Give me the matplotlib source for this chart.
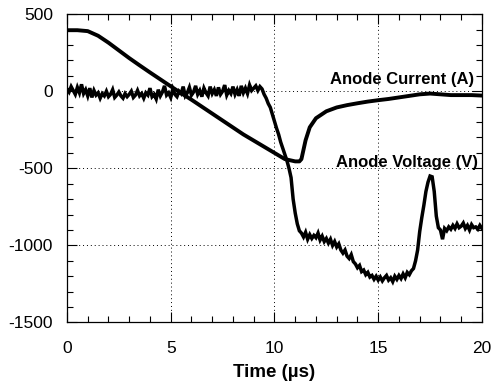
import matplotlib
matplotlib.use("Agg")
import matplotlib.pyplot as plt
import numpy as np
from matplotlib.ticker import MultipleLocator

plt.rcParams['font.family'] = ['Liberation Sans', 'DejaVu Sans']
plt.rcParams['axes.unicode_minus'] = False

# Anode voltage (V), sampled every 0.1 us from 0 to 20 us
volt_t = [round(0.1 * i, 1) for i in range(201)]
volt_v = [
    15, -5, 30, 5, -20, 25, -10, 45, -15, 10,
    -30, 20, -40, 5, -25, -10, -45, -15, -30, 0,
    -35, -20, 10, -40, -25, -5, -30, -45, -15, -35,
    -20, 0, -40, -25, 5, -30, -15, -45, -10, -25,
    20, -35, -20, -50, 10, -30, -5, 35, -25, -10,
    -40, 15, -20, -35, 0, -15, 30, -30, -10, 25,
    -25, -5, 35, -20, 5, -35, 20, -10, -30, 30,
    -15, 10, -30, 25, -20, 0, 40, -25, 5, -15,
    30, -20, 10, -30, 35, -10, 20, -15, 40, 5,
    20, 35, 5, 30, 15, -20, -45, -80, -105, -150,
    -195, -240, -280, -330, -370, -410, -450, -500, -560, -700,
    -790, -860, -905, -920, -945, -915, -960, -930, -955, -935,
    -950, -920, -965, -940, -975, -955, -985, -960, -1000, -975,
    -1010, -990, -1030, -1050, -1030, -1070, -1085, -1060, -1105, -1120,
    -1145, -1130, -1170, -1160, -1190, -1175, -1205, -1195, -1220, -1200,
    -1225, -1205, -1230, -1210, -1195, -1225, -1210, -1235, -1200, -1220,
    -1195, -1215, -1185, -1210, -1175, -1190, -1165, -1150, -1100, -1030,
    -910, -820, -740, -650, -590, -550, -555, -650, -810, -885,
    -900, -960, -890, -905, -880, -895, -870, -890, -860, -885,
    -875, -855, -890, -870, -900, -865, -885, -880, -895, -870,
    -890,
]

# Anode current (A)
cur_t = [0, 0.5, 1.0, 1.5, 2.0, 2.5, 3.0, 3.5, 4.0, 4.5, 5.0, 5.5, 6.0, 6.5,
         7.0, 7.5, 8.0, 8.5, 9.0, 9.5, 10.0, 10.5, 11.0, 11.2, 11.3, 11.5,
         11.7, 12.0, 12.5, 13.0, 13.5, 14.0, 14.5, 15.0, 15.5, 16.0, 16.5,
         17.0, 17.5, 18.0, 18.5, 19.0, 19.5, 20.0]
cur_v = [396, 396, 390, 360, 315, 265, 215, 168, 122, 77, 32, -12, -55, -100,
         -145, -190, -235, -280, -320, -360, -400, -440, -455, -455, -440, -318,
         -234, -175, -130, -105, -90, -78, -67, -58, -50, -40, -30,
         -20, -15, -20, -25, -25, -25, -28]

x_ticks = [0, 5, 10, 15, 20]
y_ticks = [-1500, -1000, -500, 0, 500]

fig = plt.figure(figsize=(4.94, 3.83), dpi=100)
ax = fig.add_axes([0.1356, 0.158, 0.840, 0.805])

ax.plot(volt_t, volt_v, color='black', lw=2.5, solid_joinstyle='miter')
ax.plot(cur_t, cur_v, color='black', lw=2.8)

ax.set_xlim(0, 20)
ax.set_ylim(-1500, 500)
ax.set_xticks(x_ticks)
ax.set_yticks(y_ticks)
ax.xaxis.set_minor_locator(MultipleLocator(1))
ax.yaxis.set_minor_locator(MultipleLocator(100))
ax.tick_params(which='both', direction='in', top=True, right=True, width=0.8,
               labelsize=12.5)
ax.tick_params(which='major', length=7)
ax.tick_params(which='minor', length=4)
ax.tick_params(axis='x', which='major', pad=13)
ax.tick_params(axis='y', which='major', pad=10)
for s in ax.spines.values():
    s.set_linewidth(0.9)

ax.grid(True, which='major', linestyle=(0, (1, 3)), color='black', lw=0.7)

ax.text(19.6, 78, 'Anode Current (A)', ha='right', va='center',
        fontsize=12, fontweight='bold')
ax.text(19.8, -461, 'Anode Voltage (V)', ha='right', va='center',
        fontsize=12, fontweight='bold')

ax.set_xlabel('Time (\u00b5s)', fontsize=13.5, fontweight='bold', labelpad=6)

fig.savefig('out.png', dpi=100)
